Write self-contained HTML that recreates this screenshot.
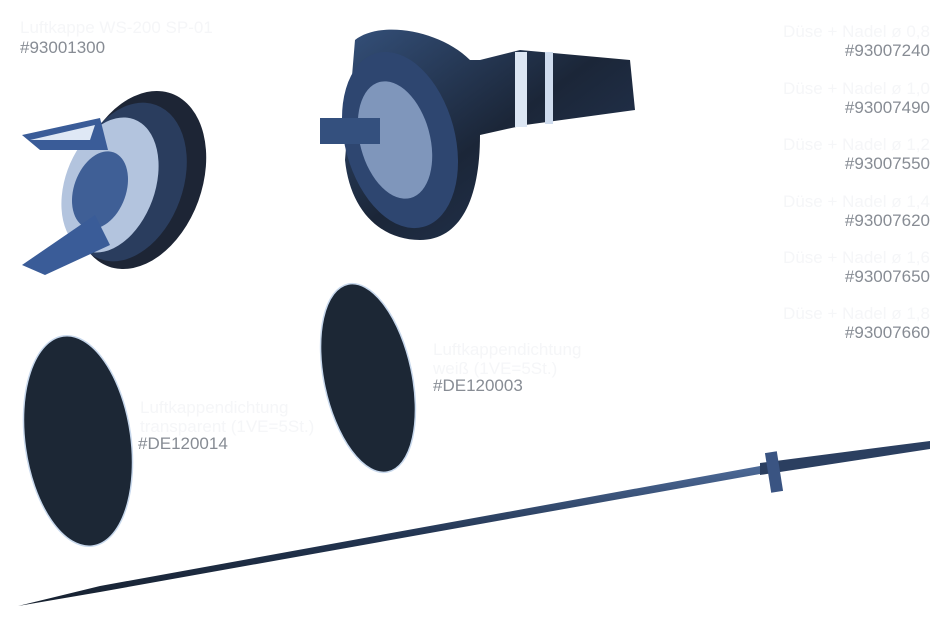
<!DOCTYPE html>
<html><head><meta charset="utf-8"><style>
body{margin:0;width:950px;height:637px;background:#fff;position:relative;overflow:hidden;font-family:"Liberation Sans",sans-serif}
.t{position:absolute;font-size:17px;line-height:19px;color:#878c94}
.f{color:#f5f6f8}
.r{text-align:right}
</style></head><body>
<svg width="950" height="637" style="position:absolute;left:0;top:0">
<defs>
<linearGradient id="g1" x1="0" y1="0" x2="1" y2="1"><stop offset="0" stop-color="#34507a"/><stop offset=".5" stop-color="#1b2638"/><stop offset="1" stop-color="#26395a"/></linearGradient>
<linearGradient id="nd" x1="0" y1="0" x2="0" y2="1"><stop offset="0" stop-color="#4d6a98"/><stop offset=".5" stop-color="#223450"/><stop offset="1" stop-color="#16202e"/></linearGradient>
</defs>
<!-- air cap -->
<ellipse cx="140" cy="180" rx="62" ry="92" fill="#1d2535" transform="rotate(20 140 180)"/>
<ellipse cx="128" cy="182" rx="55" ry="82" fill="#2a3d5e" transform="rotate(20 128 182)"/>
<ellipse cx="110" cy="185" rx="45" ry="70" fill="#b3c4de" transform="rotate(20 110 185)"/>
<ellipse cx="100" cy="190" rx="26" ry="40" fill="#3f5f96" transform="rotate(20 100 190)"/>
<polygon points="22,135 100,118 108,150 40,150" fill="#3a5c98"/>
<polygon points="22,265 95,215 110,245 45,275" fill="#3a5c98"/>
<polygon points="30,140 95,125 90,140" fill="#dfe8f5"/>
<!-- nozzle -->
<path d="M355,40 C380,20 440,30 470,60 L480,60 L520,50 L630,60 L635,110 L525,125 L480,135 C480,200 460,240 420,240 C380,240 350,210 345,160 Z" fill="url(#g1)"/>
<ellipse cx="400" cy="140" rx="55" ry="90" fill="#2e4670" transform="rotate(-15 400 140)"/>
<ellipse cx="395" cy="140" rx="35" ry="60" fill="#7f96bb" transform="rotate(-15 395 140)"/>
<rect x="320" y="118" width="60" height="26" fill="#34507e"/>
<rect x="515" y="52" width="12" height="75" fill="#dce6f3"/>
<rect x="545" y="52" width="8" height="72" fill="#cfdcee"/>
<!-- seals -->
<ellipse cx="78" cy="441" rx="53" ry="106" fill="#1c2735" stroke="#c8d8ec" stroke-width="1.5" transform="rotate(-8 78 441)"/>
<ellipse cx="368" cy="378" rx="44" ry="96" fill="#1c2735" stroke="#c8d8ec" stroke-width="1.5" transform="rotate(-12 368 378)"/>
<!-- needle -->
<polygon points="18,606 100,586 760,466 760,474 100,592" fill="url(#nd)"/>
<polygon points="760,463 930,441 930,449 760,475" fill="#2b3f60"/>
<rect x="768" y="452" width="12" height="40" fill="#3a5482" transform="rotate(-9 774 472)"/>
</svg>
<div class="t f" style="left:20px;top:18px">Luftkappe WS-200 SP-01</div>
<div class="t" style="left:20px;top:38px">#93001300</div>
<div class="t f" style="left:140px;top:398px">Luftkappendichtung<br>transparent (1VE=5St.)</div>
<div class="t" style="left:138px;top:434px">#DE120014</div>
<div class="t f" style="left:433px;top:340px">Luftkappendichtung<br>weiß (1VE=5St.)</div>
<div class="t" style="left:433px;top:376px">#DE120003</div>
<div class="t r" style="right:20px;top:22px"><span class="f">Düse + Nadel ø 0,8</span><br>#93007240</div>
<div class="t r" style="right:20px;top:79px"><span class="f">Düse + Nadel ø 1,0</span><br>#93007490</div>
<div class="t r" style="right:20px;top:135px"><span class="f">Düse + Nadel ø 1,2</span><br>#93007550</div>
<div class="t r" style="right:20px;top:192px"><span class="f">Düse + Nadel ø 1,4</span><br>#93007620</div>
<div class="t r" style="right:20px;top:248px"><span class="f">Düse + Nadel ø 1,6</span><br>#93007650</div>
<div class="t r" style="right:20px;top:304px"><span class="f">Düse + Nadel ø 1,8</span><br>#93007660</div>
</body></html>
